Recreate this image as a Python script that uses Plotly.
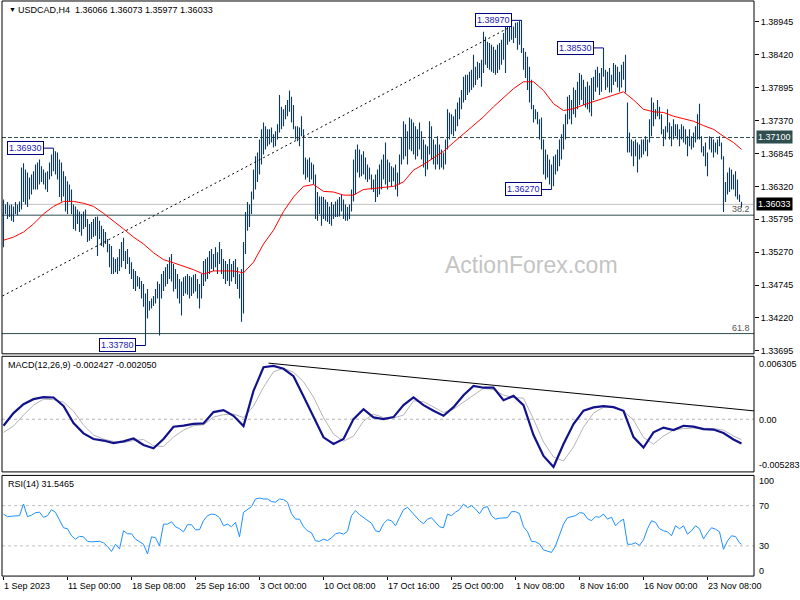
import plotly.graph_objects as go

FONT = "Liberation Sans, Arial, sans-serif"

# ---------------- data ----------------
dates = ["1 Sep 2023", "11 Sep 00:00", "18 Sep 08:00", "25 Sep 16:00", "3 Oct 00:00",
         "10 Oct 08:00", "17 Oct 16:00", "25 Oct 00:00", "1 Nov 08:00", "8 Nov 16:00",
         "16 Nov 00:00", "23 Nov 08:00"]
date_idx = list(range(0, 353, 32))

high = [
    1.3611, 1.3603, 1.3607, 1.3602, 1.3603, 1.3600, 1.3607, 1.3603, 1.3608, 1.3662,
    1.3669, 1.3659, 1.3654, 1.3646, 1.3651, 1.3656, 1.3667, 1.3670, 1.3675, 1.3664,
    1.3659, 1.3654, 1.3656, 1.3670, 1.3683, 1.3693, 1.3688, 1.3686, 1.3675, 1.3670,
    1.3656, 1.3648, 1.3640, 1.3635, 1.3627, 1.3603, 1.3600, 1.3595, 1.3592, 1.3588,
    1.3592, 1.3595, 1.3580, 1.3572, 1.3575, 1.3580, 1.3583, 1.3584, 1.3577, 1.3569,
    1.3564, 1.3559, 1.3548, 1.3540, 1.3537, 1.3519, 1.3516, 1.3519, 1.3532, 1.3543,
    1.3550, 1.3529, 1.3532, 1.3519, 1.3511, 1.3500, 1.3497, 1.3489, 1.3487, 1.3481,
    1.3476, 1.3461, 1.3468, 1.3449, 1.3453, 1.3457, 1.3468, 1.3480, 1.3476, 1.3492,
    1.3497, 1.3503, 1.3508, 1.3519, 1.3524, 1.3508, 1.3500, 1.3492, 1.3484, 1.3480,
    1.3487, 1.3489, 1.3492, 1.3489, 1.3487, 1.3491, 1.3492, 1.3484, 1.3476, 1.3492,
    1.3513, 1.3516, 1.3519, 1.3529, 1.3532, 1.3524, 1.3535, 1.3527, 1.3543, 1.3532,
    1.3516, 1.3513, 1.3508, 1.3516, 1.3508, 1.3513, 1.3516, 1.3503, 1.3492, 1.3500,
    1.3543, 1.3591, 1.3607, 1.3603, 1.3624, 1.3659, 1.3680, 1.3686, 1.3707, 1.3723,
    1.3734, 1.3728, 1.3723, 1.3723, 1.3726, 1.3715, 1.3720, 1.3731, 1.3778, 1.3759,
    1.3755, 1.3762, 1.3770, 1.3785, 1.3775, 1.3762, 1.3728, 1.3728, 1.3726, 1.3744,
    1.3723, 1.3678, 1.3675, 1.3678, 1.3670, 1.3667, 1.3651, 1.3623, 1.3616, 1.3616,
    1.3615, 1.3611, 1.3607, 1.3600, 1.3607, 1.3603, 1.3608, 1.3611, 1.3615, 1.3619,
    1.3611, 1.3603, 1.3599, 1.3603, 1.3627, 1.3675, 1.3691, 1.3699, 1.3691, 1.3683,
    1.3688, 1.3678, 1.3667, 1.3662, 1.3651, 1.3643, 1.3651, 1.3659, 1.3667, 1.3675,
    1.3683, 1.3702, 1.3675, 1.3670, 1.3664, 1.3662, 1.3667, 1.3654, 1.3683, 1.3710,
    1.3736, 1.3731, 1.3720, 1.3742, 1.3739, 1.3734, 1.3728, 1.3723, 1.3734, 1.3720,
    1.3707, 1.3699, 1.3696, 1.3736, 1.3728, 1.3707, 1.3699, 1.3712, 1.3699, 1.3691,
    1.3686, 1.3707, 1.3755, 1.3750, 1.3747, 1.3744, 1.3755, 1.3766, 1.3774, 1.3786,
    1.3807, 1.3810, 1.3810, 1.3815, 1.3818, 1.3842, 1.3823, 1.3831, 1.3829, 1.3834,
    1.3879, 1.3871, 1.3863, 1.3861, 1.3858, 1.3855, 1.3850, 1.3858, 1.3861, 1.3866,
    1.3877, 1.3887, 1.3890, 1.3893, 1.3890, 1.3887, 1.3893, 1.3894, 1.3896, 1.3897,
    1.3853, 1.3847, 1.3839, 1.3823, 1.3802, 1.3762, 1.3755, 1.3751, 1.3739, 1.3742,
    1.3707, 1.3691, 1.3683, 1.3675, 1.3667, 1.3680, 1.3683, 1.3691, 1.3707, 1.3715,
    1.3731, 1.3747, 1.3775, 1.3778, 1.3770, 1.3790, 1.3786, 1.3799, 1.3813, 1.3810,
    1.3802, 1.3791, 1.3799, 1.3793, 1.3805, 1.3807, 1.3818, 1.3823, 1.3813, 1.3821,
    1.3853, 1.3818, 1.3815, 1.3821, 1.3810, 1.3829, 1.3826, 1.3823, 1.3815, 1.3826,
    1.3831, 1.3842, 1.3766, 1.3718, 1.3707, 1.3704, 1.3707, 1.3702, 1.3699, 1.3707,
    1.3707, 1.3712, 1.3707, 1.3739, 1.3774, 1.3766, 1.3755, 1.3770, 1.3759, 1.3747,
    1.3723, 1.3728, 1.3755, 1.3734, 1.3728, 1.3739, 1.3731, 1.3731, 1.3723, 1.3731,
    1.3728, 1.3723, 1.3712, 1.3723, 1.3712, 1.3718, 1.3728, 1.3747, 1.3764, 1.3712,
    1.3696, 1.3702, 1.3686, 1.3712, 1.3710, 1.3707, 1.3702, 1.3707, 1.3712, 1.3702,
    1.3680, 1.3639, 1.3654, 1.3662, 1.3659, 1.3651, 1.3656, 1.3643, 1.3619, 1.36073,
]

low = [
    1.3535, 1.3588, 1.3580, 1.3583, 1.3577, 1.3575, 1.3588, 1.3586, 1.3591, 1.3595,
    1.3607, 1.3603, 1.3599, 1.3611, 1.3619, 1.3627, 1.3627, 1.3627, 1.3635, 1.3639,
    1.3635, 1.3627, 1.3623, 1.3643, 1.3648, 1.3656, 1.3651, 1.3643, 1.3615, 1.3608,
    1.3616, 1.3592, 1.3588, 1.3607, 1.3588, 1.3564, 1.3561, 1.3572, 1.3559, 1.3553,
    1.3564, 1.3567, 1.3543, 1.3545, 1.3548, 1.3551, 1.3553, 1.3521, 1.3548, 1.3537,
    1.3535, 1.3540, 1.3527, 1.3503, 1.3492, 1.3492, 1.3495, 1.3492, 1.3497, 1.3503,
    1.3513, 1.3500, 1.3508, 1.3492, 1.3484, 1.3468, 1.3465, 1.3472, 1.3468, 1.3453,
    1.3440, 1.3378, 1.3421, 1.3434, 1.3437, 1.3441, 1.3445, 1.3453, 1.3394, 1.3453,
    1.3465, 1.3472, 1.3476, 1.3484, 1.3480, 1.3464, 1.3468, 1.3453, 1.3445, 1.3426,
    1.3457, 1.3461, 1.3459, 1.3453, 1.3457, 1.3461, 1.3464, 1.3453, 1.3437, 1.3453,
    1.3473, 1.3480, 1.3484, 1.3492, 1.3500, 1.3497, 1.3503, 1.3492, 1.3508, 1.3492,
    1.3484, 1.3476, 1.3481, 1.3473, 1.3480, 1.3487, 1.3476, 1.3468, 1.3453, 1.3416,
    1.3429, 1.3524, 1.3561, 1.3567, 1.3588, 1.3611, 1.3627, 1.3639, 1.3651, 1.3667,
    1.3683, 1.3691, 1.3696, 1.3699, 1.3702, 1.3694, 1.3696, 1.3707, 1.3718, 1.3723,
    1.3728, 1.3739, 1.3744, 1.3751, 1.3734, 1.3723, 1.3707, 1.3704, 1.3696, 1.3712,
    1.3651, 1.3643, 1.3646, 1.3639, 1.3643, 1.3635, 1.3580, 1.3577, 1.3588, 1.3569,
    1.3580, 1.3577, 1.3575, 1.3572, 1.3569, 1.3580, 1.3583, 1.3583, 1.3584, 1.3592,
    1.3580, 1.3577, 1.3577, 1.3580, 1.3592, 1.3608, 1.3619, 1.3654, 1.3646, 1.3648,
    1.3651, 1.3643, 1.3639, 1.3643, 1.3627, 1.3623, 1.3607, 1.3615, 1.3619, 1.3627,
    1.3643, 1.3635, 1.3627, 1.3639, 1.3632, 1.3640, 1.3627, 1.3616, 1.3635, 1.3667,
    1.3675, 1.3680, 1.3667, 1.3691, 1.3688, 1.3683, 1.3675, 1.3680, 1.3691, 1.3675,
    1.3662, 1.3648, 1.3659, 1.3683, 1.3675, 1.3667, 1.3659, 1.3667, 1.3659, 1.3662,
    1.3659, 1.3667, 1.3691, 1.3707, 1.3715, 1.3712, 1.3720, 1.3728, 1.3739, 1.3755,
    1.3766, 1.3770, 1.3778, 1.3782, 1.3786, 1.3790, 1.3794, 1.3802, 1.3805, 1.3791,
    1.3813, 1.3826, 1.3821, 1.3818, 1.3815, 1.3813, 1.3810, 1.3813, 1.3818, 1.3826,
    1.3834, 1.3813, 1.3858, 1.3863, 1.3866, 1.3861, 1.3869, 1.3850, 1.3858, 1.3845,
    1.3818, 1.3805, 1.3786, 1.3766, 1.3755, 1.3734, 1.3739, 1.3731, 1.3707, 1.3691,
    1.3651, 1.3643, 1.3646, 1.3635, 1.3627, 1.3632, 1.3651, 1.3656, 1.3664, 1.3675,
    1.3691, 1.3707, 1.3731, 1.3739, 1.3731, 1.3747, 1.3742, 1.3755, 1.3762, 1.3770,
    1.3762, 1.3758, 1.3755, 1.3750, 1.3744, 1.3770, 1.3783, 1.3790, 1.3778, 1.3783,
    1.3807, 1.3786, 1.3790, 1.3782, 1.3782, 1.3794, 1.3799, 1.3790, 1.3783, 1.3790,
    1.3802, 1.3782, 1.3686, 1.3686, 1.3680, 1.3664, 1.3680, 1.3654, 1.3675, 1.3678,
    1.3683, 1.3688, 1.3680, 1.3702, 1.3712, 1.3728, 1.3739, 1.3744, 1.3739, 1.3715,
    1.3696, 1.3707, 1.3718, 1.3707, 1.3696, 1.3707, 1.3712, 1.3707, 1.3696, 1.3707,
    1.3702, 1.3699, 1.3680, 1.3696, 1.3691, 1.3694, 1.3702, 1.3707, 1.3707, 1.3686,
    1.3680, 1.3664, 1.3648, 1.3691, 1.3686, 1.3678, 1.3686, 1.3683, 1.3696, 1.3675,
    1.3591, 1.3607, 1.3619, 1.3623, 1.3627, 1.3627, 1.3616, 1.3611, 1.3607, 1.35977,
]

# moving average, sampled every 5 bars (plus the last bar)
ma_line = [
    1.3546, 1.3551, 1.3559, 1.3572, 1.3588, 1.3600, 1.3608, 1.3608, 1.3605, 1.3600,
    1.3589, 1.3577, 1.3564, 1.3551, 1.3540, 1.3526, 1.3515, 1.3510, 1.3505, 1.3499,
    1.3492, 1.3497, 1.3497, 1.3497, 1.3494, 1.3511, 1.3540, 1.3562, 1.3592, 1.3615,
    1.3632, 1.3635, 1.3624, 1.3623, 1.3618, 1.3618, 1.3627, 1.3629, 1.3631, 1.3632,
    1.3639, 1.3658, 1.3667, 1.3678, 1.3688, 1.3702, 1.3716, 1.3729, 1.3743, 1.3759,
    1.3774, 1.3788, 1.3799, 1.3799, 1.3785, 1.3764, 1.3753, 1.3756, 1.3762, 1.3767,
    1.3772, 1.3778, 1.3783, 1.3770, 1.3755, 1.3751, 1.3750, 1.3744, 1.3740, 1.3736,
    1.3729, 1.3723, 1.3712, 1.3702, 1.3691,
]

macd_main = [
    -0.000658, 0.000611, 0.001510, 0.002009, 0.002209, 0.002179, 0.001340, -0.000388, -0.001417, -0.001987,
    -0.002137, -0.002386, -0.002216, -0.001937, -0.002586, -0.002916, -0.001987, -0.000758, -0.000638, -0.000468,
    -0.000418, 0.000711, 0.000910, 0.000341, -0.000688, 0.002838, 0.005206, 0.005336, 0.005056, 0.004307,
    0.002309, 0.000311, -0.001817, -0.002486, -0.001987, 0.000011, 0.001010, 0.000181, 0.000011, 0.000211,
    0.001410, 0.002179, 0.001410, 0.000840, 0.000341, 0.001210, 0.002409, 0.003338, 0.003158, 0.003178,
    0.001909, 0.002339, 0.001410, -0.001587, -0.003685, -0.004784, -0.002486, -0.000488, 0.000860, 0.001180,
    0.001310, 0.001210, 0.000840, -0.001787, -0.002836, -0.001317, -0.000838, -0.001088, -0.000658, -0.000738,
    -0.000988, -0.001038, -0.001387, -0.002037, -0.002427,
]

macd_signal = [
    -0.001317, -0.000688, 0.000411, 0.001410, 0.002009, 0.001959, 0.001710, 0.000810, -0.000588, -0.001587,
    -0.001987, -0.002236, -0.002336, -0.002137, -0.002037, -0.002656, -0.002736, -0.001787, -0.001088, -0.000658,
    -0.000558, 0.000211, 0.000461, 0.000511, 0.000161, 0.001310, 0.003208, 0.004757, 0.005106, 0.004707,
    0.003758, 0.002209, 0.000161, -0.001487, -0.002216, -0.001687, -0.000189, 0.000511, 0.000161, 0.000131,
    0.000411, 0.001839, 0.001760, 0.001180, 0.000681, 0.001010, 0.001710, 0.002409, 0.003108, 0.002958,
    0.002409, 0.002179, 0.002109, 0.000011, -0.002286, -0.003785, -0.004185, -0.002786, -0.000788, 0.000611,
    0.001190, 0.001230, 0.000810, -0.000089, -0.001837, -0.002486, -0.001687, -0.001088, -0.000938, -0.000888,
    -0.000888, -0.000938, -0.001088, -0.001687, -0.002050,
]

# RSI(14), sampled every 2 bars (plus the last bar)
rsi14 = [
    61.6, 59, 59.5, 60, 60, 71.6, 59, 60.5, 63, 63.5,
    58.3, 60, 66, 63.3, 56, 48, 47, 40, 36.6, 39.5,
    39, 34.5, 34, 34, 34.5, 33, 29.5, 24.5, 31.6, 27,
    45, 42, 42, 36.6, 34, 31.6, 22, 39, 38, 30,
    51.6, 51.6, 54, 49, 47, 44, 51, 51, 46, 46,
    55, 60, 61.6, 61, 58, 50, 51.6, 49, 53.3, 39,
    63.3, 66.6, 69, 76.6, 77.5, 76.6, 76.6, 74, 73.5, 76.6,
    76, 73.3, 62, 56.6, 56.6, 49, 45, 43, 35, 34.5,
    36.6, 35.3, 38, 42, 43, 41.6, 44.5, 60, 65, 61,
    58, 55, 52.5, 45, 44, 52, 56, 55, 50, 58,
    66, 68.3, 64, 60, 55, 52, 56.6, 58, 53.3, 49,
    48, 61.6, 60, 63.5, 66, 71.5, 68, 70, 66.6, 62,
    68, 69, 60, 56.6, 57.5, 58, 58, 64, 64, 62,
    49, 44, 34.5, 34, 32, 26, 25, 23.5, 30, 40,
    51.6, 58, 59, 60, 63, 62.5, 57, 55, 59, 58.5,
    61.6, 56.6, 58.5, 50, 54, 56.6, 31.6, 31.6, 33, 30.5,
    36, 47, 55, 53.3, 47, 45, 44, 40, 50, 47,
    50, 41.6, 45, 50, 47, 37, 43, 48, 46.6, 44,
    26.6, 35, 40, 39.3, 33, 31.5465,
]

price_ticks = [1.38945, 1.38420, 1.37895, 1.37370, 1.36845, 1.36320,
               1.35795, 1.35270, 1.34745, 1.34220, 1.33695]
resistance = 1.37100
last_price = 1.36033
fib_levels = [1.3586, 1.3397]
fib_names = ["38.2", "61.8"]
swing_idx = [25, 71, 259, 300, 274]
swing_val = [1.3693, 1.3378, 1.3897, 1.3853, 1.3627]
channel_idx = [-0.5, 252.5]
channel_val = [1.3457, 1.3885]
macd_trend_idx = [132.5, 375.5]
macd_trend_val = [0.00562, 0.00083]

n = len(high)
bar_idx = list(range(n))
ma_idx = list(range(0, n - 1, 5)) + [n - 1]
rsi_idx = list(range(0, n - 1, 2)) + [n - 1]

# ---------------- figure ----------------
fig = go.Figure()

bx, by = [], []
for i, h, l in zip(bar_idx, high, low):
    bx += [i, i, None]
    by += [l, h, None]
fig.add_trace(go.Scatter(x=bx, y=by, mode="lines", line=dict(color="#0d3a5e", width=1.1),
                         hoverinfo="skip", showlegend=False))
fig.add_trace(go.Scatter(x=ma_idx, y=ma_line, mode="lines", line=dict(color="#ff0000", width=1),
                         showlegend=False))
fig.add_trace(go.Scatter(x=channel_idx, y=channel_val, mode="lines",
                         line=dict(color="black", width=1, dash="2px,3px"), showlegend=False))

fig.add_trace(go.Scatter(x=ma_idx, y=macd_signal, mode="lines", yaxis="y2",
                         line=dict(color="#b4b4b4", width=1), showlegend=False))
fig.add_trace(go.Scatter(x=ma_idx, y=macd_main, mode="lines", yaxis="y2",
                         line=dict(color="#12128c", width=2.2), showlegend=False))
fig.add_trace(go.Scatter(x=macd_trend_idx, y=macd_trend_val, mode="lines", yaxis="y2",
                         line=dict(color="black", width=1), showlegend=False))

fig.add_trace(go.Scatter(x=rsi_idx, y=rsi14, mode="lines", yaxis="y3",
                         line=dict(color="#1e90ff", width=1), showlegend=False))

shapes = []
# panel frames
for ax in ["y", "y2", "y3"]:
    shapes.append(dict(type="rect", xref="x domain", yref=f"{ax} domain", x0=0, x1=1, y0=0, y1=1,
                       line=dict(color="black", width=1), fillcolor="rgba(0,0,0,0)"))
# horizontal levels
shapes.append(dict(type="line", xref="x domain", yref="y", x0=0, x1=1, y0=last_price, y1=last_price,
                   line=dict(color="#c0c0c0", width=1), layer="below"))
shapes.append(dict(type="line", xref="x domain", yref="y", x0=0, x1=1, y0=resistance, y1=resistance,
                   line=dict(color="#2f4f4f", width=1, dash="4px,2px"), layer="below"))
for lv in fib_levels:
    shapes.append(dict(type="line", xref="x domain", yref="y", x0=0, x1=1, y0=lv, y1=lv,
                       line=dict(color="#2f4f4f", width=1), layer="below"))
shapes.append(dict(type="line", xref="x domain", yref="y2", x0=0, x1=1, y0=0, y1=0,
                   line=dict(color="#b4b4b4", width=1, dash="3px,3px"), layer="below"))
for lv in [70, 30]:
    shapes.append(dict(type="line", xref="x domain", yref="y3", x0=0, x1=1, y0=lv, y1=lv,
                       line=dict(color="#c0c0c0", width=1, dash="3px,3px"), layer="below"))
# swing label connectors
for i, v in zip(swing_idx, swing_val):
    shapes.append(dict(type="line", xref="x", yref="y", x0=i - 5, x1=i, y0=v, y1=v,
                       line=dict(color="#000080", width=1)))

ann = []
f9 = dict(family=FONT, size=9, color="black")
ann.append(dict(xref="paper", yref="paper", x=7 / 800, y=1 - 10 / 600, text="▼", showarrow=False,
                xanchor="left", yanchor="middle", font=dict(family=FONT, size=7, color="black")))
ann.append(dict(xref="paper", yref="paper", x=16 / 800, y=1 - 10 / 600,
                text="USDCAD,H4  1.36066 1.36073 1.35977 1.36033", showarrow=False,
                xanchor="left", yanchor="middle", font=f9))
ann.append(dict(xref="paper", yref="paper", x=6 / 800, y=1 - 366.5 / 600,
                text="MACD(12,26,9) -0.002427 -0.002050", showarrow=False,
                xanchor="left", yanchor="middle", font=f9))
ann.append(dict(xref="paper", yref="paper", x=6 / 800, y=1 - 486 / 600,
                text="RSI(14) 31.5465", showarrow=False, xanchor="left", yanchor="middle", font=f9))
ann.append(dict(xref="paper", yref="paper", x=531 / 800, y=1 - 266 / 600, text="ActionForex.com",
                showarrow=False, xanchor="center", yanchor="middle",
                font=dict(family=FONT, size=23, color="#c4c4c4")))
# right-side value boxes
ann.append(dict(xref="paper", yref="y", x=755.5 / 800, y=resistance, text=f"{resistance:.5f}",
                showarrow=False, xanchor="left", yanchor="middle", bgcolor="#2f4f4f", borderpad=1,
                font=dict(family=FONT, size=9, color="white")))
ann.append(dict(xref="paper", yref="y", x=755.5 / 800, y=last_price, text=f"{last_price:.5f}",
                showarrow=False, xanchor="left", yanchor="middle", bgcolor="black", borderpad=1,
                font=dict(family=FONT, size=9, color="white")))
# fib labels
for lv, nm in zip(fib_levels, fib_names):
    ann.append(dict(xref="paper", yref="y", x=752 / 800, y=lv, text=nm, showarrow=False,
                    xanchor="right", yanchor="bottom", yshift=-1,
                    font=dict(family=FONT, size=9, color="#555555")))
# swing labels
for i, v in zip(swing_idx, swing_val):
    ann.append(dict(xref="x", yref="y", x=i - 5, y=v, text=f"{v:.5f}", showarrow=False,
                    xanchor="right", yanchor="middle", bgcolor="white", bordercolor="#000080",
                    borderwidth=1, borderpad=1,
                    font=dict(family=FONT, size=9, color="#1a1ab4")))
# indicator scale labels
for txt, py in [("0.006305", 365), ("0.00", 421), ("-0.005283", 467),
                ("100", 483), ("70", 508), ("30", 548), ("0", 573)]:
    ann.append(dict(xref="paper", yref="paper", x=757 / 800, y=1 - py / 600, text=txt,
                    showarrow=False, xanchor="left", yanchor="middle", font=f9))
# time labels
for i, d in zip(date_idx, dates):
    ann.append(dict(xref="x", yref="paper", x=i, y=1 - 588 / 600, text=d, showarrow=False,
                    xanchor="left", yanchor="middle", xshift=-2, font=f9))

fig.update_layout(
    width=800, height=600, autosize=False,
    margin=dict(l=0, r=0, t=0, b=0),
    paper_bgcolor="white", plot_bgcolor="white",
    showlegend=False, hovermode=False,
    font=dict(family=FONT, size=9, color="black"),
    shapes=shapes, annotations=ann,
    xaxis=dict(domain=[2 / 800, 754 / 800], range=[-0.75, 375.25], anchor="y3",
               showgrid=False, zeroline=False, showticklabels=False, showline=False,
               ticks="outside", tickvals=date_idx, ticklen=3, tickcolor="black", fixedrange=True),
    yaxis=dict(domain=[1 - 355 / 600, 1 - 1 / 600], range=[1.33647, 1.39279], anchor="x", side="right",
               showgrid=False, zeroline=False, showline=False, tickvals=price_ticks,
               ticktext=[f"{t:.5f}" for t in price_ticks], ticks="outside", ticklen=4,
               tickcolor="black", tickfont=f9, fixedrange=True),
    yaxis2=dict(domain=[1 - 473.5 / 600, 1 - 357.5 / 600], range=[-0.005283, 0.006305], anchor="x",
                showgrid=False, zeroline=False, showticklabels=False, showline=False, fixedrange=True),
    yaxis3=dict(domain=[1 - 578 / 600, 1 - 477 / 600], range=[0, 100], anchor="x",
                showgrid=False, zeroline=False, showticklabels=False, showline=False, fixedrange=True),
)

fig.write_html("out.html", include_plotlyjs=True,
               config={"displayModeBar": False, "staticPlot": True},
               post_script="document.body.style.margin='0';document.body.style.overflow='hidden';")
